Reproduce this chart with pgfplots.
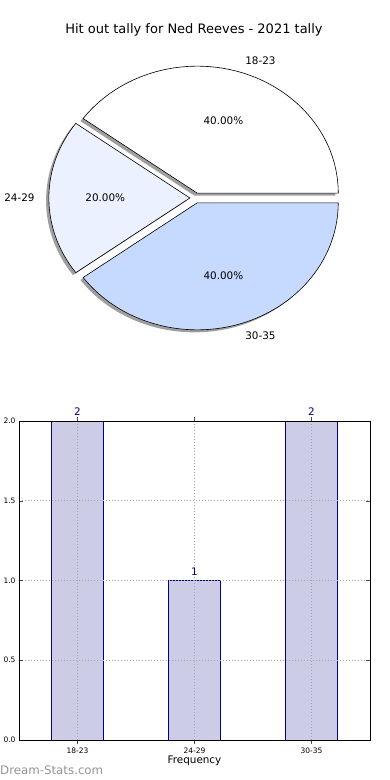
\documentclass[border=0pt]{standalone}
\usepackage{fontspec}
\setmainfont{DejaVu Sans}
\usepackage{pgfplots}
\pgfplotsset{compat=1.18}
\definecolor{sliceA}{HTML}{FFFFFF}
\definecolor{sliceB}{HTML}{EBF1FF}
\definecolor{sliceC}{HTML}{C6D9FF}
\definecolor{barfill}{HTML}{CCCCE6}
\definecolor{navyc}{HTML}{000080}
% pie data
\def\pieA{2}\def\pieB{1}\def\pieC{2}
% geometry of the pie (axis units = pt)
\def\pcxo{195.5}\def\pcyo{582}\def\prx{141}\def\pry{127}
\newcommand{\pieshadow}[2]{%
  \pgfmathsetmacro\pmid{(#1+#2)/2}%
  \pgfmathsetmacro\pcx{\pcxo+0.04*\prx*cos(\pmid)-2.8}%
  \pgfmathsetmacro\pcy{\pcyo+0.04*\pry*sin(\pmid)-2.5}%
  \fill[gray!75] (axis cs:\pcx,\pcy) -- ++(#1:\prx pt and \pry pt)
     arc[start angle=#1, end angle=#2, x radius=\prx pt, y radius=\pry pt] -- cycle;}
\newcommand{\pieslice}[6]{% start, end, color, label, pct, anchor
  \pgfmathsetmacro\pmid{(#1+#2)/2}%
  \pgfmathsetmacro\pcx{\pcxo+0.04*\prx*cos(\pmid)}%
  \pgfmathsetmacro\pcy{\pcyo+0.04*\pry*sin(\pmid)}%
  \filldraw[fill=#3, draw=black, line width=0.6pt, line join=miter] (axis cs:\pcx,\pcy) -- ++(#1:\prx pt and \pry pt)
     arc[start angle=#1, end angle=#2, x radius=\prx pt, y radius=\pry pt] -- cycle;
  \pgfmathsetmacro\plx{\pcx+0.6*\prx*cos(\pmid)}%
  \pgfmathsetmacro\ply{\pcy+0.6*\pry*sin(\pmid)}%
  \node[font=\fontsize{10.4}{12}\selectfont] at (axis cs:\plx,\ply) {#5};
  \pgfmathsetmacro\pox{\pcx+1.1*\prx*cos(\pmid)}%
  \pgfmathsetmacro\poy{\pcy+1.1*\pry*sin(\pmid)}%
  \node[font=\fontsize{10.4}{12}\selectfont, anchor=#6, inner sep=0pt] at (axis cs:\pox,\poy) {#4};}
\begin{document}
\begin{tikzpicture}
\useasboundingbox (0pt,0pt) rectangle (390pt,780pt);
\node[font=\fontsize{13}{15}\selectfont] at (194pt,750pt) {Hit out tally for Ned Reeves - 2021 tally};
\begin{axis}[at={(0pt,390pt)}, anchor=south west, scale only axis,
  width=390pt, height=390pt, xmin=0, xmax=390, ymin=390, ymax=780,
  hide axis, clip=false]
\pgfplotsextra{%
  \pgfmathsetmacro\tot{\pieA+\pieB+\pieC}%
  \pgfmathsetmacro\aA{360*\pieA/\tot}%
  \pgfmathsetmacro\aB{\aA+360*\pieB/\tot}%
  \pieshadow{0}{\aA}%
  \pieshadow{\aA}{\aB}%
  \pieshadow{\aB}{360}%
  \pieslice{0}{\aA}{sliceA}{18-23}{40.00\%}{west}%
  \pieslice{\aA}{\aB}{sliceB}{24-29}{20.00\%}{east}%
  \pieslice{\aB}{360}{sliceC}{30-35}{40.00\%}{west}%
}
\end{axis}
\begin{axis}[at={(19pt,40pt)}, anchor=south west, scale only axis,
  width=351pt, height=319pt,
  xmin=-0.5, xmax=2.5, ymin=0, ymax=2,
  xtick={0,1,2}, xticklabels={18-23,24-29,30-35},
  ytick={0,0.5,1,1.5,2},
  yticklabel style={/pgf/number format/.cd, fixed, fixed zerofill, precision=1},
  ticklabel style={font=\fontsize{7.5}{9}\selectfont},
  grid=major, major grid style={black!35, dash pattern=on 1pt off 2pt, line width=0.6pt},
  axis on top,
  xlabel={Frequency}, xlabel style={font=\fontsize{10.4}{12}\selectfont, yshift=4pt},
  tick align=inside, major tick length=4pt, tick style={black!70, line width=0.5pt},
  axis line style={line width=0.8pt},
  ybar, bar width=0.45,
  nodes near coords,
  nodes near coords style={navyc, font=\fontsize{10.4}{12}\selectfont, yshift=1.5pt},
  /pgf/number format/assume math mode=true]
\addplot[fill=barfill, draw=navyc, line width=0.8pt] coordinates {(0,2) (1,1) (2,2)};
\end{axis}
\node[anchor=west, text=black!42, font=\fontsize{11.8}{13}\selectfont, inner sep=0pt] at (0pt,10pt) {Dream-Stats.com};
\end{tikzpicture}
\end{document}
